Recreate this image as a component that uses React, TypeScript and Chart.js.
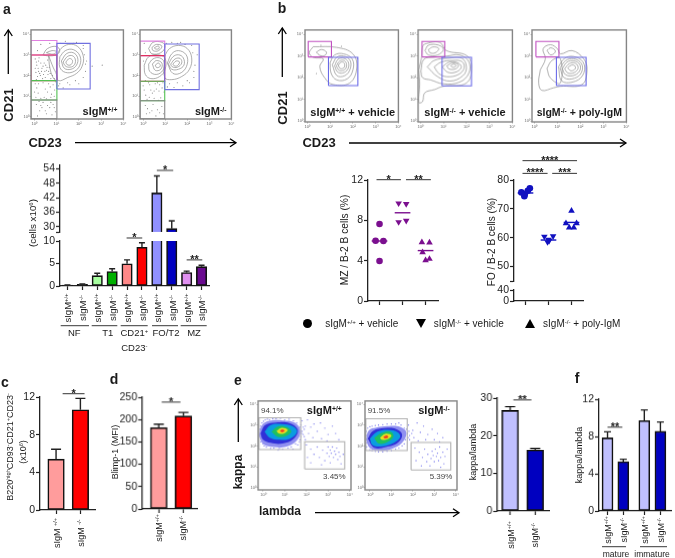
import React, { useEffect, useRef } from "react";
import { Chart, registerables } from "chart.js";
Chart.register(...registerables);

const FONT = '"Liberation Sans", Arial, sans-serif';

/* ---------- bar data ---------- */
const aValues = [0.2, 0.35, 2.3, 3.2, 4.95, 8.6, 44, 29.3, 3.0, 4.3];
const aTops = [0.25, 0.45, 2.85, 3.85, 5.8, 9.6, 51, 32.5, 3.3, 4.6];
const aColors = ["#333333", "#333333", "#a8ffa0", "#00b000", "#ff8888", "#ff0000", "#9090ff", "#0000c0", "#e090f0", "#6a0a90"];
const aTickLabels = ["+/+", "-/-", "+/+", "-/-", "+/+", "-/-", "+/+", "-/-", "+/+", "-/-"];
const aGroups = ["NF", "T1", "CD21+", "FO/T2", "MZ"];

const cValues = [5.4, 10.65];
const cTops = [6.45, 11.85];
const dValues = [182, 208];
const dTops = [189.6, 216];
const eValues = [26.7, 16.2];
const eTops = [27.7, 16.6];
const fValues = [7.85, 5.3, 9.7, 8.55];
const fTops = [8.5, 5.55, 10.85, 9.55];
const fPositions = [0, 1, 2.33, 3.35];

/* ---------- scatter data ---------- */
const mzCircleX = [0, -0.17, 0.17, 0];
const mzCircleY = [7.64, 5.98, 5.95, 3.97];
const mzDownX = [0.83, 1.16, 0.83, 1.16];
const mzDownY = [9.69, 9.62, 7.83, 7.97];
const mzUpX = [1.84, 2.17, 1.87, 2.0, 2.17];
const mzUpY = [5.82, 5.79, 4.83, 4.03, 4.17];
const mzMeans = [5.95, 8.75, 5.0];

const foCircleX = [-0.18, -0.03, -0.05, 0.1, 0.19];
const foCircleY = [75.7, 75.1, 74.4, 76.3, 77.1];
const foDownX = [0.82, 1.2, 0.96, 1.03, 1.0];
const foDownY = [60.4, 60.5, 58.5, 59.0, 59.3];
const foUpX = [2.0, 1.76, 2.22, 1.9, 2.1];
const foUpY = [69.3, 65.0, 65.0, 63.5, 63.5];
const foMeans = [75.5, 59.2, 65.3];

/* ---------- flow gates, in decades [x0, y0, x1, y1] ---------- */
const aGates1 = [[-0.14, 2.99, 1.02, 3.69], [-0.14, 1.75, 1.02, 2.99], [-0.14, 0.82, 1.02, 1.75], [-0.14, -0.09, 1.02, 0.82], [1.02, 1.35, 2.51, 3.55]];
const aGates2 = [[-0.14, 2.96, 0.98, 3.66], [-0.14, 1.72, 0.98, 2.96], [-0.14, 0.78, 0.98, 1.72], [-0.14, -0.09, 0.98, 0.78], [0.98, 1.32, 2.54, 3.52]];
const bGates1 = [[0.04, 2.96, 1.06, 3.67], [0.93, 1.64, 2.22, 2.94]];
const bGates2 = [[0.07, 2.96, 1.06, 3.67], [0.94, 1.63, 2.22, 2.94]];
const bGates3 = [[0.07, 2.96, 1.07, 3.67], [0.96, 1.64, 2.25, 2.94]];
const eGates1 = [[-0.19, 1.83, 1.74, 3.35], [1.92, 0.9, 3.77, 2.2]];
const eGates2 = [[-0.19, 1.78, 1.74, 3.3], [1.92, 0.85, 3.77, 2.17]];

/* ---------- contours: flat x,y lists in decades ---------- */
const aContours1 = [
  [1.02, 3.0, 1.2, 3.3, 1.55, 3.5, 1.95, 3.4, 2.2, 2.95, 2.15, 2.45, 1.9, 2.1, 1.5, 1.9, 1.1, 1.75, 1.02, 2.1],
  [1.15, 2.9, 1.4, 3.2, 1.75, 3.25, 2.05, 2.95, 2.05, 2.5, 1.8, 2.2, 1.4, 2.15, 1.15, 2.4],
  [1.22, 2.7, 1.45, 3.05, 1.75, 3.1, 1.95, 2.85, 1.9, 2.5, 1.65, 2.3, 1.35, 2.35],
  [1.3, 2.65, 1.5, 2.92, 1.72, 2.95, 1.85, 2.75, 1.78, 2.48, 1.55, 2.4, 1.38, 2.48],
  [1.42, 2.65, 1.58, 2.82, 1.72, 2.72, 1.65, 2.52, 1.48, 2.52],
  [0.4, 3.0, 0.6, 3.3, 1.0, 3.4, 1.15, 3.2, 1.0, 3.0, 0.6, 2.95],
  [0.55, 3.1, 0.8, 3.2, 1.0, 3.15, 0.85, 3.03],
  [0.65, 2.95, 0.85, 2.4, 1.0, 2.05, 1.02, 1.75, 0.85, 1.9, 0.7, 2.4],
];
const aContours2 = [
  [0.98, 2.95, 1.2, 3.3, 1.6, 3.45, 2.0, 3.3, 2.2, 2.85, 2.1, 2.3, 1.75, 1.95, 1.3, 1.8, 0.98, 1.9],
  [1.1, 2.6, 1.3, 3.05, 1.6, 3.2, 1.95, 3.0, 2.0, 2.55, 1.75, 2.15, 1.35, 2.1],
  [1.15, 2.55, 1.35, 2.9, 1.6, 3.0, 1.82, 2.85, 1.85, 2.5, 1.6, 2.3, 1.3, 2.3],
  [1.25, 2.55, 1.45, 2.8, 1.68, 2.82, 1.75, 2.6, 1.55, 2.4, 1.32, 2.42],
  [1.35, 2.55, 1.5, 2.7, 1.65, 2.65, 1.55, 2.47, 1.4, 2.47],
  [0.05, 2.5, 0.25, 2.9, 0.65, 3.0, 0.98, 2.85, 1.0, 2.3, 0.75, 1.95, 0.35, 1.85, 0.1, 2.05],
  [0.25, 2.55, 0.45, 2.8, 0.75, 2.85, 0.95, 2.65, 0.9, 2.25, 0.6, 2.05, 0.3, 2.2],
  [0.42, 2.55, 0.6, 2.72, 0.85, 2.6, 0.8, 2.3, 0.55, 2.25],
  [0.55, 2.5, 0.7, 2.6, 0.78, 2.45, 0.62, 2.38],
  [0.25, 3.3, 0.45, 3.6, 0.85, 3.6, 1.0, 3.4, 0.8, 3.1, 0.4, 3.05],
  [0.4, 3.35, 0.6, 3.5, 0.85, 3.42, 0.7, 3.2, 0.45, 3.2],
  [0.52, 3.35, 0.7, 3.42, 0.72, 3.3, 0.55, 3.28],
];
const bContours1 = [
  [0.26, 3.43, 1.28, 3.4, 2.0, 3.1, 2.17, 2.43, 1.86, 1.76, 1.13, 1.69, 0.77, 1.99, 0.55, 2.51, 0.7, 2.87, 0.26, 2.94, 0.09, 3.15],
  [0.4, 3.18, 0.62, 3.3, 0.84, 3.18, 0.77, 3.03, 0.55, 3.03],
  [1.0, 2.7, 1.2, 3.05, 1.6, 3.1, 1.98, 2.85, 2.0, 2.35, 1.75, 1.95, 1.3, 1.9, 1.05, 2.2],
  [1.1, 2.6, 1.3, 2.95, 1.6, 3.0, 1.88, 2.8, 1.88, 2.4, 1.65, 2.1, 1.3, 2.1],
  [1.2, 2.55, 1.35, 2.85, 1.6, 2.9, 1.8, 2.72, 1.78, 2.4, 1.55, 2.22, 1.32, 2.28],
  [1.28, 2.55, 1.42, 2.77, 1.6, 2.8, 1.72, 2.65, 1.68, 2.42, 1.5, 2.32, 1.36, 2.38],
  [1.36, 2.57, 1.48, 2.72, 1.62, 2.68, 1.62, 2.48, 1.46, 2.42],
];
const bContours2 = [
  [-0.07, 2.36, 0.04, 2.88, 0.09, 3.4, 0.19, 3.55, 0.84, 3.63, 1.13, 3.25, 2.0, 3.03, 2.22, 2.51, 2.0, 1.76, 0.99, 1.61, 0.62, 1.46, 0.19, 1.31, 0.09, 0.9, -0.07, 0.87, -0.03, 1.69],
  [0.2, 3.25, 0.35, 3.5, 0.8, 3.5, 1.0, 3.3, 0.75, 3.05, 0.35, 3.05],
  [0.35, 3.3, 0.55, 3.42, 0.8, 3.35, 0.65, 3.15, 0.42, 3.15],
  [0.02, 2.3, 0.15, 2.85, 0.6, 2.95, 1.15, 3.0, 1.7, 3.05, 2.1, 2.75, 2.1, 2.2, 1.7, 1.8, 1.0, 1.72, 0.45, 1.9, 0.1, 2.0],
  [0.3, 2.5, 0.6, 2.8, 1.2, 2.9, 1.8, 2.9, 2.0, 2.5, 1.85, 2.1, 1.3, 1.85, 0.75, 2.05],
  [0.6, 2.5, 0.9, 2.72, 1.4, 2.8, 1.8, 2.75, 1.9, 2.45, 1.65, 2.15, 1.15, 2.05, 0.8, 2.2],
  [0.95, 2.5, 1.25, 2.72, 1.6, 2.7, 1.78, 2.5, 1.58, 2.28, 1.2, 2.25],
  [1.15, 2.55, 1.4, 2.68, 1.65, 2.6, 1.55, 2.42, 1.25, 2.4],
  [1.32, 2.55, 1.45, 2.63, 1.55, 2.55, 1.42, 2.48],
];
const bContours3 = [
  [0.26, 2.36, 0.48, 2.88, 0.38, 3.33, 0.7, 3.52, 1.01, 3.33, 1.13, 3.1, 1.64, 3.25, 2.14, 2.88, 2.29, 2.36, 2.07, 1.69, 1.13, 1.61, 0.84, 1.54, 0.33, 1.42, 0.19, 1.76],
  [0.55, 2.43, 0.77, 2.8, 1.13, 2.88, 1.13, 1.76, 0.7, 1.99],
  [0.55, 3.25, 0.72, 3.38, 0.92, 3.22, 0.72, 3.05],
  [1.05, 2.5, 1.3, 2.88, 1.7, 2.98, 2.12, 2.72, 2.15, 2.22, 1.8, 1.85, 1.2, 1.85],
  [1.12, 2.45, 1.35, 2.78, 1.7, 2.88, 2.05, 2.65, 2.05, 2.25, 1.75, 1.98, 1.3, 2.0],
  [1.22, 2.42, 1.42, 2.72, 1.72, 2.78, 1.98, 2.6, 1.96, 2.3, 1.68, 2.1, 1.35, 2.15],
  [1.32, 2.42, 1.52, 2.65, 1.75, 2.68, 1.9, 2.52, 1.84, 2.32, 1.6, 2.2, 1.42, 2.25],
  [1.45, 2.45, 1.6, 2.58, 1.75, 2.56, 1.78, 2.42, 1.6, 2.32],
];

/* ---------- sparse dots: flat x,y lists ---------- */
const aDots1 = [0.05, 2.8, 0.12, 2.5, 0.2, 2.2, 0.28, 2.0, 0.35, 2.35, 0.42, 2.05, 0.5, 1.9, 0.3, 2.6, 0.15, 1.95, 0.08, 2.15, 0.45, 2.6, 0.55, 2.25, 0.62, 2.05, 0.38, 1.85, 0.6, 2.75, 0.22, 2.85, 0.68, 2.4, 0.1, 1.8, 0.75, 1.85, 0.52, 2.5, 0.05, 1.6, 0.02, 1.2, 0.08, 0.95, 0.12, 1.4, 0.18, 1.15, 0.3, 0.9, 0.45, 0.95, 0.6, 1.2, 0.72, 1.45, 0.85, 1.55, 0.92, 1.3, 0.55, 0.88, 0.9, 1.0, 0.75, 0.95, 0.1, 0.6, 0.25, 0.3, 0.4, 0.7, 0.55, 0.15, 0.7, 0.45, 0.85, 0.6, 0.95, 0.25, 0.15, 0.05, 0.35, 0.45, 0.6, 0.55, 0.8, 0.1, 1.1, 1.5, 1.3, 1.4, 1.6, 1.55, 2.0, 1.6, 2.3, 2.2, 2.35, 2.7, 2.6, 2.45, 1.4, 3.65, 1.9, 3.6, 2.2, 3.3, 3.05, 2.5, 0.3, 3.5, 0.15, 3.2, 0.7, 3.55, 0.22, 0.75, 0.5, 1.35, 0.78, 1.1, 0.18, 2.35, 0.25, 2.1, 0.33, 2.2, 0.4, 2.45, 0.48, 2.2, 0.58, 2.4, 0.65, 2.2, 0.72, 2.1, 0.82, 2.0, 0.9, 1.85, 0.05, 2.35, 0.1, 2.65, 0.2, 2.7, 2.25, 3.0, 2.3, 2.55, 2.2, 3.45, 1.75, 3.55, 1.2, 3.55, 2.2, 1.9, 1.85, 1.75, 1.5, 1.65, 1.15, 1.6, 0.65, 1.6, 0.4, 1.65, 0.2, 1.6, 0.95, 1.7, 0.5, 0.3, 0.75, 0.7, 0.3, 0.55, 0.9, 0.45];
const aDots2 = [0.02, 2.7, 0.1, 1.75, 0.3, 1.55, 0.55, 1.6, 0.75, 1.55, 0.9, 1.65, 0.05, 1.3, 0.12, 1.05, 0.28, 0.95, 0.42, 1.15, 0.6, 1.35, 0.72, 1.25, 0.86, 1.4, 0.18, 0.85, 0.5, 0.9, 0.8, 0.92, 0.1, 0.55, 0.3, 0.2, 0.45, 0.6, 0.65, 0.35, 0.85, 0.5, 0.92, 0.15, 0.2, 0.4, 0.58, 0.05, 1.1, 1.45, 1.4, 1.42, 1.8, 1.5, 2.1, 1.65, 2.3, 1.9, 2.35, 2.5, 2.45, 3.0, 2.2, 3.45, 1.3, 3.6, 1.7, 3.6, 0.1, 3.1, 0.05, 3.55, 1.05, 3.55, 0.95, 1.2, 0.35, 1.3, 2.25, 3.1, 2.3, 2.2, 1.9, 3.5, 1.55, 3.55, 2.0, 1.75, 1.55, 1.65, 1.2, 1.6, 0.65, 1.65, 0.25, 1.65, 0.0, 1.5, 0.5, 1.25, 0.7, 0.8, 0.4, 0.3, 0.75, 0.2, 0.15, 0.15];
const bDots1 = [0.6, 3.5, 1.5, 3.45, 2.2, 2.9, 0.4, 2.2];

const eDots1 = [
  1.8, 3.2, 1.95, 2.95, 2.05, 3.25, 2.2, 2.9, 2.35, 3.05, 2.5, 2.7, 2.65, 3.1, 2.85, 2.85, 3.0, 2.55, 3.2, 2.95, 3.35, 2.6, 3.5, 2.3, 2.1, 2.6, 2.3, 2.4, 1.85, 2.55, 1.95, 2.3, 2.7, 2.35, 2.95, 2.25,
  2.0, 2.05, 2.2, 1.85, 2.35, 1.6, 2.5, 1.95, 2.6, 1.45, 2.75, 1.8, 2.85, 1.3, 2.95, 1.65, 3.0, 1.95, 3.05, 1.5, 3.1, 1.8, 3.15, 1.65, 3.2, 1.95, 3.25, 1.45, 3.3, 1.75, 3.35, 1.6, 3.4, 1.9, 3.45, 1.35, 3.5, 1.7, 3.55, 1.5, 3.1, 1.2, 2.7, 1.1, 2.2, 1.2, 2.05, 1.45, 3.6, 1.15, 3.7, 1.6,
  -0.1, 2.35, -0.15, 2.8, -0.05, 3.1, 0.1, 3.25, 0.3, 3.25, 0.6, 3.3, 1.0, 3.25, 1.4, 3.2, 1.7, 2.9, 1.8, 2.7, 1.75, 2.45, 1.6, 2.05, 1.3, 1.95, 0.9, 1.85, 0.5, 1.9, 0.15, 1.95, 0.0, 2.1, 1.55, 2.95, 1.9, 2.8, 0.7, 1.8,
  -0.17, 2.55, -0.12, 2.95, 0.02, 3.18, 0.2, 3.28, 0.45, 3.3, 0.8, 3.32, 1.2, 3.28, 1.55, 3.1, 1.75, 3.0, 1.85, 2.9, 1.78, 2.6, 1.7, 2.3, 1.5, 2.1, 1.15, 1.9, 0.75, 1.88, 0.35, 1.88, 0.05, 2.0, -0.1, 2.2, 1.68, 2.2, 1.9, 2.45, 1.38, 1.85,
];
const eDots2 = [
  1.8, 3.0, 2.0, 2.75, 2.2, 3.1, 2.35, 2.65, 2.5, 2.95, 2.7, 2.55, 2.9, 2.8, 3.15, 2.6, 3.4, 2.4, 2.05, 2.4, 2.25, 2.25, 1.85, 2.3, 2.6, 2.3, 3.0, 2.3, 3.25, 2.2,
  2.1, 1.9, 2.3, 1.7, 2.45, 1.45, 2.55, 1.85, 2.65, 1.25, 2.7, 1.6, 2.8, 1.05, 2.85, 1.4, 2.9, 1.75, 2.95, 1.55, 3.0, 1.25, 3.05, 1.85, 3.1, 1.5, 3.15, 1.65, 3.2, 1.3, 3.25, 1.95, 3.3, 1.45, 3.4, 1.7, 3.45, 1.15, 3.5, 1.5, 3.6, 1.85, 2.4, 1.05, 2.15, 1.3, 3.3, 0.98,
  -0.15, 1.95, -0.15, 2.5, -0.1, 2.85, 0.1, 2.95, 0.4, 3.0, 0.8, 3.05, 1.2, 3.05, 1.6, 2.85, 1.75, 2.6, 1.65, 2.3, 1.5, 2.0, 1.2, 1.85, 0.8, 1.75, 0.4, 1.72, 0.1, 1.78, 1.85, 2.5, 1.35, 3.1,
  -0.17, 2.15, -0.17, 2.7, 0.0, 2.92, 0.25, 2.98, 0.6, 3.02, 1.0, 3.05, 1.45, 3.0, 1.7, 2.8, 1.82, 2.7, 1.78, 2.4, 1.6, 2.1, 1.35, 1.9, 1.0, 1.78, 0.6, 1.72, 0.25, 1.74, 0.0, 1.82, 1.95, 2.6,
];

/* ---------- density regions of the pseudocolour plots ---------- */
const eDensity1 = [
  [-0.2, 2.5, -0.05, 3.0, 0.3, 3.2, 0.9, 3.22, 1.45, 3.12, 1.72, 2.75, 1.55, 2.25, 1.1, 1.98, 0.5, 1.95, 0.0, 2.1],
  [-0.12, 2.6, 0.1, 3.0, 0.6, 3.12, 1.2, 3.1, 1.6, 2.78, 1.42, 2.35, 0.9, 2.12, 0.35, 2.15, 0.0, 2.3],
  [0.07, 2.68, 0.35, 3.0, 0.85, 3.05, 1.35, 2.95, 1.57, 2.68, 1.25, 2.35, 0.75, 2.3, 0.3, 2.4],
  [0.39, 2.68, 0.65, 2.92, 1.05, 2.92, 1.3, 2.7, 1.05, 2.47, 0.65, 2.45],
  [0.62, 2.72, 0.85, 2.87, 1.13, 2.78, 0.98, 2.6, 0.72, 2.6],
  [0.77, 2.72, 0.88, 2.8, 1.0, 2.73, 0.88, 2.65],
];
const eDensity2 = [
  [-0.19, 2.3, -0.05, 2.75, 0.3, 2.88, 0.8, 2.95, 1.4, 2.92, 1.7, 2.65, 1.5, 2.15, 1.0, 1.85, 0.4, 1.78, 0.0, 1.9],
  [-0.1, 2.35, 0.15, 2.72, 0.7, 2.85, 1.2, 2.82, 1.5, 2.55, 1.3, 2.15, 0.75, 1.95, 0.2, 1.92],
  [0.0, 2.35, 0.35, 2.68, 0.85, 2.77, 1.3, 2.65, 1.4, 2.4, 1.0, 2.1, 0.5, 1.98, 0.12, 2.05],
  [0.2, 2.38, 0.55, 2.62, 0.95, 2.68, 1.1, 2.45, 0.8, 2.18, 0.4, 2.12],
  [0.47, 2.4, 0.72, 2.58, 1.0, 2.5, 0.82, 2.32, 0.55, 2.3],
  [0.62, 2.42, 0.78, 2.5, 0.86, 2.42, 0.7, 2.36],
];
const densityColors = ["#9090f0", "#3030d8", "#0a9ce0", "#20c060", "#e8e020", "#f04020"];

/* ---------- shared helpers ---------- */
type Sig = { x0: number; x1: number; y: number; stars: string };

const toPoints = (flat: number[]) => {
  const out: { x: number; y: number }[] = [];
  for (let i = 0; i + 1 < flat.length; i += 2) out.push({ x: flat[i], y: flat[i + 1] });
  return out;
};
const closed = (flat: number[]) => {
  const p = toPoints(flat);
  p.push(p[0]);
  return p;
};
const zip = (xs: number[], ys: number[]) => xs.map((x, i) => ({ x, y: ys[i] }));

const annotations = {
  id: "annotations",
  afterDatasetsDraw(chart: any, _a: any, opts: any) {
    const { ctx, scales } = chart;
    const xs = scales.x;
    const ys = scales.y;
    ctx.save();
    if (opts.tops) {
      ctx.strokeStyle = "#222";
      ctx.lineWidth = 1.4;
      opts.tops.forEach((top: number, i: number) => {
        const v = opts.values[i];
        if (v == null || v > ys.max || v < ys.min) return;
        const px = xs.getPixelForValue(opts.xs[i]);
        const y0 = ys.getPixelForValue(v);
        const y1 = ys.getPixelForValue(top);
        ctx.beginPath();
        ctx.moveTo(px, y0);
        ctx.lineTo(px, y1);
        ctx.moveTo(px - opts.cap, y1);
        ctx.lineTo(px + opts.cap, y1);
        ctx.stroke();
      });
    }
    (opts.sigs || []).forEach((s: Sig) => {
      const a = xs.getPixelForValue(s.x0);
      const b = xs.getPixelForValue(s.x1);
      const y = ys.getPixelForValue(s.y);
      ctx.strokeStyle = "#333";
      ctx.lineWidth = 1;
      ctx.beginPath();
      ctx.moveTo(a, y);
      ctx.lineTo(b, y);
      ctx.stroke();
      ctx.fillStyle = "#222";
      ctx.font = `bold 11px ${FONT}`;
      ctx.textAlign = "center";
      ctx.textBaseline = "alphabetic";
      ctx.fillText(s.stars, (a + b) / 2, y + 3);
    });
    if (opts.frame) {
      const c = chart.chartArea;
      ctx.strokeStyle = "#858585";
      ctx.lineWidth = 1.4;
      ctx.strokeRect(c.left, c.top, c.right - c.left, c.bottom - c.top);
    }
    ctx.restore();
  },
};
Chart.register(annotations);

const M = { top: 30, right: 4, bottom: 8, left: 28 };

function axisY(min: number, max: number, ticks: number[], blank: number[] = []) {
  return {
    type: "linear",
    min,
    max,
    afterFit: (s: any) => { s.width = M.left; },
    afterBuildTicks: (s: any) => { s.ticks = ticks.map((value) => ({ value })); },
    border: { color: "#222", width: 1.3 },
    grid: { drawOnChartArea: false, color: "#222", tickLength: 4, tickWidth: 1.2 },
    ticks: {
      autoSkip: false,
      maxRotation: 0,
      color: "#222",
      padding: 1,
      font: { family: FONT, size: 10.5 },
      callback: (v: number) => (blank.includes(v) ? "" : String(v)),
    },
  };
}
function axisX(min: number, max: number, ticks: number[], show = true) {
  return {
    type: "linear",
    min,
    max,
    offset: false,
    afterFit: (s: any) => { s.height = M.bottom; },
    afterBuildTicks: (s: any) => { s.ticks = ticks.map((value) => ({ value })); },
    border: { color: "#222", width: 1.3, display: show },
    grid: { offset: false, drawOnChartArea: false, display: show, color: "#222", tickLength: 4, tickWidth: 1.2 },
    ticks: { display: false, autoSkip: false },
  };
}
function base(datasets: any[], scales: any, annotationOpts: any, margin = M) {
  return {
    data: { datasets },
    options: {
      responsive: false,
      animation: false,
      layout: { autoPadding: false, padding: { top: margin.top, right: margin.right, left: 0, bottom: 0 } },
      plugins: { legend: { display: false }, tooltip: { enabled: false }, annotations: annotationOpts },
      scales,
    },
  };
}
function barConfig(p: { xs: number[]; values: number[]; tops: number[]; colors: string[]; xMin: number; xMax: number; yMin: number; yMax: number; yTicks: number[]; blank?: number[]; thick: number; sigs?: Sig[]; cap?: number; xAxis?: boolean }) {
  const pts = zip(p.xs, p.values);
  return {
    type: "bar",
    ...base(
      [{ data: pts, backgroundColor: p.colors, borderColor: "#111", borderWidth: 1.6, barThickness: p.thick, borderSkipped: false }],
      { x: axisX(p.xMin, p.xMax, p.xs, p.xAxis !== false), y: axisY(p.yMin, p.yMax, p.yTicks, p.blank || []) },
      { xs: p.xs, values: p.values, tops: p.tops, cap: p.cap ?? 4, sigs: p.sigs || [] },
    ),
  };
}
function dotSets(color: string, circle: { x: number; y: number }[], down: { x: number; y: number }[], up: { x: number; y: number }[], means: number[]) {
  const mk = (data: any[], pointStyle: string, rotation = 0, radius = 3.3) => ({ data, pointStyle, rotation, pointRadius: radius, backgroundColor: color, borderColor: color, borderWidth: 0, showLine: false });
  const meanSets = means.map((m, i) => ({
    data: [{ x: i - 0.34, y: m }, { x: i + 0.34, y: m }],
    showLine: true,
    borderColor: color,
    borderWidth: 1.4,
    pointRadius: 0,
  }));
  return [mk(circle, "circle"), mk(down, "triangle", 180, 3.8), mk(up, "triangle", 0, 3.8), ...meanSets];
}
const FLOW_M = { top: 0, right: 3, bottom: 8, left: 11 };
function flowAxis(min: number, max: number, horizontal: boolean) {
  return {
    type: "linear",
    min,
    max,
    afterFit: (s: any) => { if (horizontal) s.height = FLOW_M.bottom; else s.width = FLOW_M.left; },
    afterBuildTicks: (s: any) => { s.ticks = [0, 1, 2, 3, 4].map((value) => ({ value })); },
    border: { display: false },
    grid: { drawOnChartArea: false, color: "#888", tickLength: 1.5, tickWidth: 0.6 },
    ticks: {
      autoSkip: false,
      maxRotation: 0,
      color: "#666",
      padding: 0.5,
      font: { family: FONT, size: 4 },
      callback: (v: number) => "10" + "⁰¹²³⁴"[v],
    },
  };
}
function flowConfig(p: { contours?: number[][]; dots: number[]; gates: number[][]; gateColors: string[]; x: number[]; y: number[]; density?: number[][]; dotColor?: string; dotRadius?: number }) {
  const sets: any[] = [];
  sets.push({ data: toPoints(p.dots), showLine: false, pointRadius: p.dotRadius ?? 0.55, backgroundColor: p.dotColor ?? "#808080", borderWidth: 0 });
  (p.density || []).forEach((d, i) => {
    sets.push({ data: closed(d), showLine: true, fill: "shape", tension: 0.4, borderWidth: 0, pointRadius: 0, backgroundColor: densityColors[i], borderColor: densityColors[i] });
  });
  (p.contours || []).forEach((d) => {
    sets.push({ data: closed(d), showLine: true, tension: 0.4, borderColor: "#8c8c8c", borderWidth: 0.7, pointRadius: 0, backgroundColor: "transparent" });
  });
  p.gates.forEach((g, i) => {
    const rect = [g[0], g[1], g[2], g[1], g[2], g[3], g[0], g[3]];
    sets.push({ data: closed(rect), showLine: true, tension: 0, borderColor: p.gateColors[i], borderWidth: 1.1, pointRadius: 0, backgroundColor: "transparent" });
  });
  /* Chart.js paints the first dataset last: reverse so that gates end up on top */
  sets.reverse();
  return {
    type: "scatter",
    ...base(sets, { x: flowAxis(p.x[0], p.x[1], true), y: flowAxis(p.y[0], p.y[1], false) }, { frame: true }, FLOW_M),
  };
}

/* ---------- DOM helpers ---------- */
function Plot({ l, t, w, h, m = M, make }: { l: number; t: number; w: number; h: number; m?: any; make: () => any }) {
  const ref = useRef<HTMLCanvasElement>(null);
  useEffect(() => {
    const chart = new Chart(ref.current as HTMLCanvasElement, make());
    return () => chart.destroy();
  }, []);
  const W = w + m.left + m.right;
  const H = h + m.top + m.bottom;
  return <canvas ref={ref} width={W} height={H} style={{ position: "absolute", left: l - m.left, top: t - m.top, width: W, height: H, display: "block" }} />;
}
function T({ x, y, s = 9, b = false, r = false, c = "#1a1a1a", children }: { x: number; y: number; s?: number; b?: boolean; r?: boolean; c?: string; children: any }) {
  return (
    <div style={{ position: "absolute", left: x, top: y, transform: `translate(-50%,-50%)${r ? " rotate(-90deg)" : ""}`, fontFamily: FONT, fontSize: s, fontWeight: b ? 700 : 400, color: c, whiteSpace: "nowrap", lineHeight: 1 }}>
      {children}
    </div>
  );
}
const Sp = ({ children }: { children: any }) => <span style={{ fontSize: "0.62em", position: "relative", top: "-0.5em" }}>{children}</span>;
const IgM = ({ g }: { g: string }) => <>sIgM<Sp>{g}</Sp></>;

const arrows = [[8.3, 74, 8.3, 30], [75, 142.7, 236, 142.7], [282.3, 77, 282.3, 28], [349, 143, 626, 143], [238.3, 442, 238.3, 399], [315, 512.7, 459, 512.7]];
const rules = [[60.7, 325.7, 89, 325.7], [91.7, 325.7, 117.3, 325.7], [120.7, 325.7, 147.7, 325.7], [152, 325.7, 178, 325.7], [180.7, 325.7, 206.7, 325.7], [602, 546.7, 626, 546.7], [640, 546.7, 667, 546.7]];

function Overlay() {
  return (
    <svg width={675} height={558} style={{ position: "absolute", left: 0, top: 0 }}>
      {rules.map((a, i) => <line key={i} x1={a[0]} y1={a[1]} x2={a[2]} y2={a[3]} stroke="#222" strokeWidth={0.9} />)}
      {arrows.map((a, i) => {
        const dx = Math.sign(a[2] - a[0]);
        const dy = Math.sign(a[3] - a[1]);
        const h = 6;
        const w = 4;
        return (
          <g key={i} stroke="#000" fill="none" strokeWidth={1.3}>
            <line x1={a[0]} y1={a[1]} x2={a[2]} y2={a[3]} />
            <polyline points={`${a[2] - dx * h - dy * w},${a[3] - dy * h - dx * w} ${a[2]},${a[3]} ${a[2] - dx * h + dy * w},${a[3] - dy * h + dx * w}`} />
          </g>
        );
      })}
    </svg>
  );
}

const A_X = aValues.map((_, i) => i);
const aUpperX = A_X.filter((i) => aValues[i] > 28);
const A_GATE_COLORS = ["#e080e0", "#e03060", "#50c050", "#888888", "#7070e0"];
const B_GATE_COLORS = ["#c050c0", "#6a6ae8"];
const E_GATE_COLORS = ["#b0b0b0", "#b0b0b0"];
const AX = [-0.14, 4.0];
const AY = [-0.1, 4.2];
const BX = [-0.1, 4.0];
const BY = [-0.03, 4.2];
const EX = [-0.23, 4.06];
const EY = [-0.1, 4.15];
const PURPLE = "#7b0f8f";
const BLUE = "#1010c0";

export default function App() {
  return (
    <div style={{ position: "fixed", left: 0, top: 0, width: 675, height: 558, background: "#fff", overflow: "hidden" }}>
      {/* flow plots */}
      <Plot l={31} t={27} w={93} h={92} m={FLOW_M} make={() => flowConfig({ contours: aContours1, dots: aDots1, gates: aGates1, gateColors: A_GATE_COLORS, x: AX, y: AY })} />
      <Plot l={140} t={27} w={92} h={92} m={FLOW_M} make={() => flowConfig({ contours: aContours2, dots: aDots2, gates: aGates2, gateColors: A_GATE_COLORS, x: AX, y: AY })} />
      <Plot l={305} t={27.3} w={94.3} h={94.7} m={FLOW_M} make={() => flowConfig({ contours: bContours1, dots: bDots1, gates: bGates1, gateColors: B_GATE_COLORS, x: BX, y: BY })} />
      <Plot l={418.3} t={27.3} w={94.3} h={94.7} m={FLOW_M} make={() => flowConfig({ contours: bContours2, dots: [], gates: bGates2, gateColors: B_GATE_COLORS, x: BX, y: BY })} />
      <Plot l={531.7} t={27.3} w={95} h={94.7} m={FLOW_M} make={() => flowConfig({ contours: bContours3, dots: [], gates: bGates3, gateColors: B_GATE_COLORS, x: BX, y: BY })} />
      <Plot l={258.3} t={398.3} w={92.4} h={91.7} m={FLOW_M} make={() => flowConfig({ density: eDensity1, dots: eDots1, gates: eGates1, gateColors: E_GATE_COLORS, x: EX, y: EY, dotColor: "#7c7cec", dotRadius: 0.65 })} />
      <Plot l={365} t={398.3} w={92.3} h={91.7} m={FLOW_M} make={() => flowConfig({ density: eDensity2, dots: eDots2, gates: eGates2, gateColors: E_GATE_COLORS, x: EX, y: EY, dotColor: "#7c7cec", dotRadius: 0.65 })} />

      {/* panel a bars */}
      <Plot l={60} t={165} w={149} h={66.7} make={() => barConfig({ xs: aUpperX, values: aUpperX.map((i) => aValues[i]), tops: aUpperX.map((i) => aTops[i]), colors: aUpperX.map((i) => aColors[i]), xMin: -0.5, xMax: 9.5, yMin: 27.9, yMax: 55.4, yTicks: [27.9, 30, 36, 42, 48, 54], blank: [27.9], thick: 10.4, cap: 3, xAxis: false, sigs: [{ x0: 6.0, x1: 7.1, y: 53.3, stars: "*" }] })} />
      <Plot l={60} t={241} w={149} h={45} make={() => barConfig({ xs: A_X, values: aValues, tops: aTops, colors: aColors, xMin: -0.5, xMax: 9.5, yMin: 0, yMax: 10, yTicks: [0, 5, 10], thick: 10.4, cap: 3, sigs: [{ x0: 3.97, x1: 5.02, y: 10.67, stars: "*" }, { x0: 8.0, x1: 9.05, y: 5.8, stars: "**" }] })} />

      {/* panel b dot plots */}
      <Plot l={367.7} t={180} w={70} h={121} make={() => ({ type: "scatter", ...base(dotSets(PURPLE, zip(mzCircleX, mzCircleY), zip(mzDownX, mzDownY), zip(mzUpX, mzUpY), mzMeans), { x: axisX(-0.5, 2.54, [0, 1, 2]), y: axisY(0, 12, [0, 4, 8, 12]) }, { sigs: [{ x0: -0.13, x1: 0.93, y: 12.03, stars: "*" }, { x0: 1.15, x1: 2.23, y: 12.03, stars: "**" }] }) })} />
      <Plot l={514.3} t={180} w={69} h={101} make={() => ({ type: "scatter", ...base(dotSets(BLUE, zip(foCircleX, foCircleY), zip(foDownX, foDownY), zip(foUpX, foUpY), foMeans), { x: axisX(-0.5, 2.5, [0, 1, 2], false), y: axisY(45, 80, [45, 50, 60, 70, 80], [45]) }, { sigs: [{ x0: -0.13, x1: 0.96, y: 82.3, stars: "****" }, { x0: 1.16, x1: 2.24, y: 82.3, stars: "***" }, { x0: -0.13, x1: 2.24, y: 86.7, stars: "****" }] }) })} />
      <Plot l={514.3} t={290} w={69} h={11} make={() => ({ type: "scatter", ...base([{ data: [] }], { x: axisX(-0.5, 2.5, [0, 1, 2]), y: axisY(0, 40, [0, 40]) }, {}) })} />

      {/* panels c d e f bars */}
      <Plot l={40} t={397} w={55} h={113} make={() => barConfig({ xs: [0, 1], values: cValues, tops: cTops, colors: ["#ff9c9c", "#ff0000"], xMin: -0.66, xMax: 1.6, yMin: 0, yMax: 12, yTicks: [0, 4, 8, 12], thick: 16.5, cap: 5, sigs: [{ x0: 0.27, x1: 1.17, y: 12.35, stars: "*" }] })} />
      <Plot l={142.3} t={397.3} w={54.4} h={111.7} make={() => barConfig({ xs: [0, 1], values: dValues, tops: dTops, colors: ["#ff9c9c", "#ff0000"], xMin: -0.667, xMax: 1.55, yMin: 0, yMax: 250, yTicks: [0, 50, 100, 150, 200, 250], thick: 16.5, cap: 5, sigs: [{ x0: 0.12, x1: 0.88, y: 239, stars: "*" }] })} />
      <Plot l={497.3} t={397.7} w={51.4} h={113} make={() => barConfig({ xs: [0, 1], values: eValues, tops: eTops, colors: ["#c0c0ff", "#0000c0"], xMin: -0.51, xMax: 1.55, yMin: 0, yMax: 30, yTicks: [0, 10, 20, 30], thick: 16.5, cap: 5, sigs: [{ x0: 0.13, x1: 0.85, y: 29.5, stars: "**" }] })} />
      <Plot l={599} t={399.3} w={73} h={111.4} m={{ ...M, right: 3 }} make={() => barConfig({ xs: fPositions, values: fValues, tops: fTops, colors: ["#c0c0ff", "#0000c0", "#c0c0ff", "#0000c0"], xMin: -0.54, xMax: 4.02, yMin: 0, yMax: 12, yTicks: [0, 4, 8, 12], thick: 11, cap: 3.5, sigs: [{ x0: 0, x1: 0.94, y: 9.0, stars: "**" }] })} />

      <Overlay />

      {/* panel letters */}
      <T x={7} y={9} s={14} b>a</T>
      <T x={282} y={8} s={14} b>b</T>
      <T x={5} y={382} s={14} b>c</T>
      <T x={114} y={379} s={14} b>d</T>
      <T x={238} y={380} s={14} b>e</T>
      <T x={577} y={378} s={14} b>f</T>

      {/* panel a text */}
      <T x={7.5} y={105} s={13} b r>CD21</T>
      <T x={45} y={141.7} s={13} b>CD23</T>
      <T x={100} y={111} s={11} b><IgM g="+/+" /></T>
      <T x={210.7} y={111} s={11} b><IgM g="-/-" /></T>
      <T x={33} y={222.7} s={9.8} r>(cells x10<Sp>6</Sp>)</T>
      {A_X.map((i) => <T key={i} x={68.3 + i * 14.9} y={308} s={9.5} r><IgM g={aTickLabels[i]} /></T>)}
      {aGroups.map((g, i) => <T key={g} x={[74.3, 107.7, 134.3, 166, 194][i]} y={332.7} s={9.5}>{g === "CD21+" ? <>CD21<Sp>+</Sp></> : g}</T>)}
      <T x={134.3} y={347.7} s={9.5}>CD23<Sp>-</Sp></T>

      {/* panel b text */}
      <T x={281.7} y={108} s={13} b r>CD21</T>
      <T x={319} y={142} s={13} b>CD23</T>
      <T x={352.7} y={112} s={11} b><IgM g="+/+" /> + vehicle</T>
      <T x={465} y={112} s={11} b><IgM g="-/-" /> + vehicle</T>
      <T x={579.3} y={112} s={10.5} b><IgM g="-/-" /> + poly-IgM</T>
      <T x={345} y={240} s={10.2} r>MZ / B-2 B cells (%)</T>
      <T x={491.7} y={242} s={10} r>FO / B-2 B cells (%)</T>

      {/* legend */}
      <div style={{ position: "absolute", left: 303, top: 319, width: 9, height: 9, borderRadius: "50%", background: "#000" }} />
      <T x={361.8} y={324} s={10}><IgM g="+/+" /> + vehicle</T>
      <div style={{ position: "absolute", left: 416, top: 319, width: 0, height: 0, borderLeft: "5px solid transparent", borderRight: "5px solid transparent", borderTop: "9px solid #000" }} />
      <T x={468.7} y={324} s={10}><IgM g="-/-" /> + vehicle</T>
      <div style={{ position: "absolute", left: 525, top: 319, width: 0, height: 0, borderLeft: "5px solid transparent", borderRight: "5px solid transparent", borderBottom: "9px solid #000" }} />
      <T x={581.7} y={324} s={10}><IgM g="-/-" /> + poly-IgM</T>

      {/* panel c, d text */}
      <T x={10} y={447} s={9} r>B220<Sp>high</Sp>CD93<Sp>-</Sp>CD21<Sp>+</Sp>CD23<Sp>-</Sp></T>
      <T x={23.3} y={452} s={9} r>(x10<Sp>6</Sp>)</T>
      <T x={56.7} y={533} s={9} r>sIgM <Sp>+/+</Sp></T>
      <T x={81} y={533} s={9} r>sIgM <Sp>-/-</Sp></T>
      <T x={115} y={452} s={9} r>Blimp-1 (MFI)</T>
      <T x={158.7} y={528} s={9} r><IgM g="+/+" /></T>
      <T x={183.3} y={528} s={9} r><IgM g="-/-" /></T>

      {/* panel e text */}
      <T x={238.3} y={472} s={12} b r>kappa</T>
      <T x={280} y={510.7} s={12} b>lambda</T>
      <T x={272.3} y={410.7} s={8} c="#444">94.1%</T>
      <T x={324.3} y={410} s={11} b><IgM g="+/+" /></T>
      <T x={334.3} y={476.7} s={8} c="#444">3.45%</T>
      <T x={379} y={410.7} s={8} c="#444">91.5%</T>
      <T x={434} y={410} s={11} b><IgM g="-/-" /></T>
      <T x={441} y={476.7} s={8} c="#444">5.39%</T>
      <T x={472.7} y={452} s={9} r>kappa/lambda</T>
      <T x={510.7} y={535} s={9} r><IgM g="+/+" /></T>
      <T x={535.3} y={535} s={9} r><IgM g="-/-" /></T>

      {/* panel f text */}
      <T x={579.3} y={455} s={9} r>kappa/lambda</T>
      {fPositions.map((_, i) => <T key={i} x={[607.7, 623.7, 645, 661.3][i]} y={530} s={9} r><IgM g={i % 2 ? "-/-" : "+/+"} /></T>)}
      <T x={616} y={553.5} s={8.5}>mature</T>
      <T x={652} y={553.5} s={8.5}>immature</T>
    </div>
  );
}
